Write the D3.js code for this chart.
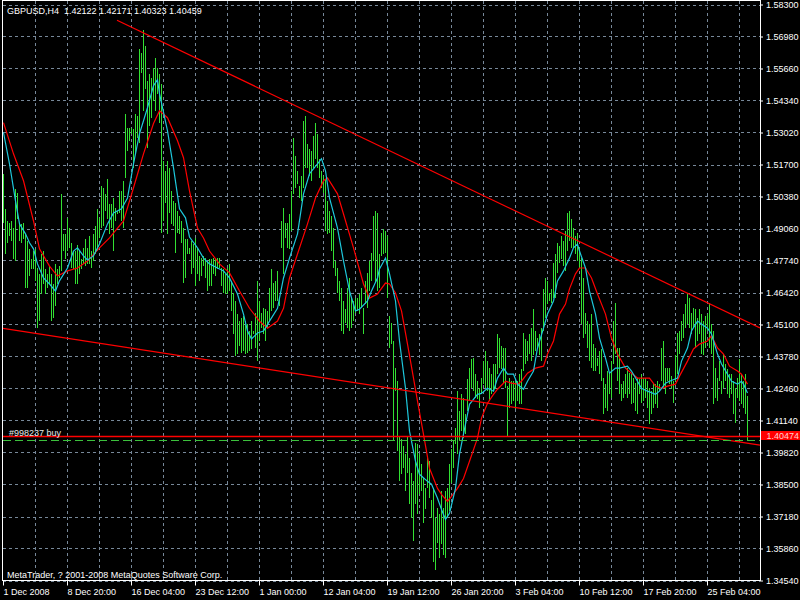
<!DOCTYPE html>
<html><head><meta charset="utf-8">
<script src="https://cdn.jsdelivr.net/npm/d3@7"></script>
<style>html,body{margin:0;padding:0;background:#000;}svg{display:block;}</style>
</head><body>
<svg id="c" width="800" height="600"></svg>
<script>
// ---------------- data ----------------
const symbol = "GBPUSD,H4";
const lastOHLC = [1.42122, 1.42171, 1.40323, 1.40459];
const copyright = "MetaTrader, ? 2001-2008 MetaQuotes Software Corp.";
const priceTicks = [1.58300,1.56980,1.55660,1.54340,1.53020,1.51700,1.50380,1.49060,1.47740,1.46420,1.45100,1.43780,1.42460,1.41140,1.39820,1.38500,1.37180,1.35860,1.34540];
const timeLabels = ["1 Dec 2008","8 Dec 20:00","16 Dec 04:00","23 Dec 12:00","1 Jan 00:00","12 Jan 04:00","19 Jan 12:00","26 Jan 20:00","3 Feb 04:00","10 Feb 12:00","17 Feb 20:00","25 Feb 04:00"];
const timeLabelBars = [0,32,64,96,128,160,192,224,256,288,320,352];
const gridBars = [16,32,48,64,80,96,112,128,144,160,176,192,208,224,240,256,272,288,304,320,336,352,368];

const highs = [
1.5132,1.4987,1.4937,1.4929,1.4937,1.4908,1.5070,1.5053,1.4929,1.4925,1.4929,1.4884,1.4855,1.4822,1.4780,1.4813,1.4822,1.4743,1.4719,1.4801,
1.4813,1.4739,1.4719,1.4751,1.4719,1.4677,1.4760,1.4739,1.4751,1.5049,1.4884,1.4884,1.4950,1.4908,1.4847,1.4813,1.4813,1.4838,1.4813,1.4780,
1.4826,1.4863,1.4826,1.4875,1.4813,1.4884,1.4916,1.4987,1.4950,1.5082,1.5074,1.5049,1.5111,1.5008,1.5008,1.5032,1.4991,1.4979,1.5061,1.5061,
1.5103,1.5380,1.5322,1.5322,1.5322,1.5317,1.5380,1.5371,1.5648,1.5628,1.5723,1.5660,1.5516,1.5545,1.5528,1.5570,1.5611,1.5566,1.5545,1.5504,
1.5185,1.5144,1.5185,1.5156,1.5061,1.5020,1.5012,1.4979,1.4958,1.4937,1.4908,1.4863,1.4863,1.4826,1.4855,1.4842,1.4867,1.4826,1.4793,1.4784,
1.4793,1.4784,1.4772,1.4780,1.4780,1.4784,1.4780,1.4784,1.4784,1.4743,1.4739,1.4719,1.4743,1.4760,1.4690,1.4640,1.4607,1.4553,1.4524,1.4537,
1.4545,1.4524,1.4512,1.4483,1.4524,1.4483,1.4557,1.4690,1.4607,1.4557,1.4577,1.4573,1.4566,1.4661,1.4739,1.4681,1.4690,1.4731,1.4615,1.4937,
1.4991,1.4929,1.4929,1.4966,1.5061,1.5280,1.5206,1.5144,1.5082,1.5123,1.5351,1.5371,1.5256,1.5235,1.5227,1.5289,1.5343,1.5297,1.5194,1.5144,
1.5123,1.5111,1.5020,1.4979,1.4958,1.4908,1.4772,1.4743,1.4690,1.4661,1.4607,1.4573,1.4661,1.4702,1.4619,1.4607,1.4619,1.4619,1.4636,1.4661,
1.4577,1.4690,1.4723,1.4772,1.4805,1.4958,1.4979,1.4970,1.4801,1.4888,1.4904,1.4896,1.4875,1.4545,1.4516,1.4442,1.4330,1.4276,1.4049,1.4037,
1.4008,1.3975,1.4049,1.3958,1.3896,1.3863,1.4020,1.4016,1.3975,1.3933,1.3875,1.3834,1.3967,1.3946,1.3788,1.3834,1.3710,1.3752,1.3727,1.3822,
1.3752,1.3822,1.3834,1.3933,1.3996,1.4028,1.4082,1.4235,1.4152,1.4222,1.4206,1.4140,1.4284,1.4330,1.4367,1.4371,1.4305,1.4276,1.4247,1.4289,
1.4359,1.4400,1.4359,1.4330,1.4305,1.4347,1.4347,1.4471,1.4454,1.4421,1.4413,1.4413,1.4256,1.4289,1.4276,1.4276,1.4276,1.4276,1.4305,1.4326,
1.4475,1.4450,1.4442,1.4471,1.4495,1.4573,1.4483,1.4454,1.4471,1.4495,1.4657,1.4702,1.4690,1.4640,1.4657,1.4764,1.4801,1.4847,1.4834,1.4875,
1.4855,1.4896,1.4970,1.4979,1.4946,1.4908,1.4875,1.4888,1.4826,1.4784,1.4702,1.4557,1.4524,1.4512,1.4553,1.4429,1.4413,1.4371,1.4400,1.4409,
1.4289,1.4264,1.4318,1.4309,1.4359,1.4524,1.4599,1.4413,1.4413,1.4264,1.4276,1.4305,1.4330,1.4309,1.4309,1.4289,1.4268,1.4289,1.4284,1.4305,
1.4289,1.4289,1.4276,1.4247,1.4235,1.4264,1.4264,1.4276,1.4264,1.4413,1.4442,1.4330,1.4330,1.4330,1.4297,1.4276,1.4384,1.4475,1.4483,1.4524,
1.4553,1.4594,1.4640,1.4619,1.4557,1.4577,1.4573,1.4537,1.4573,1.4553,1.4524,1.4545,1.4553,1.4599,1.4512,1.4483,1.4330,1.4289,1.4359,1.4276,
1.4388,1.4347,1.4326,1.4305,1.4305,1.4276,1.4247,1.4289,1.4367,1.4305,1.4276,1.4305,1.42171];
const lows = [
1.4929,1.4801,1.4847,1.4875,1.4855,1.4780,1.4772,1.4946,1.4855,1.4847,1.4863,1.4661,1.4661,1.4710,1.4739,1.4739,1.4690,1.4495,1.4524,1.4636,
1.4677,1.4636,1.4661,1.4677,1.4524,1.4537,1.4586,1.4677,1.4702,1.4731,1.4813,1.4780,1.4813,1.4826,1.4743,1.4739,1.4677,1.4677,1.4719,1.4739,
1.4760,1.4751,1.4760,1.4760,1.4743,1.4772,1.4801,1.4813,1.4867,1.4908,1.4916,1.4979,1.4946,1.4884,1.4908,1.4813,1.4937,1.4966,1.4970,1.4937,
1.4908,1.5115,1.5227,1.5268,1.5297,1.5156,1.5214,1.5280,1.5260,1.5549,1.5392,1.5483,1.5239,1.5330,1.5363,1.5433,1.5392,1.5462,1.5343,1.4888,
1.4937,1.5012,1.4884,1.4970,1.4925,1.4916,1.4805,1.4888,1.4884,1.4847,1.4681,1.4702,1.4801,1.4801,1.4719,1.4743,1.4669,1.4719,1.4690,1.4710,
1.4751,1.4702,1.4648,1.4669,1.4669,1.4719,1.4710,1.4739,1.4743,1.4669,1.4640,1.4636,1.4636,1.4648,1.4566,1.4471,1.4379,1.4388,1.4421,1.4392,
1.4400,1.4388,1.4392,1.4400,1.4409,1.4471,1.4413,1.4359,1.4442,1.4495,1.4471,1.4442,1.4495,1.4524,1.4566,1.4577,1.4607,1.4607,1.4586,1.4826,
1.4719,1.4867,1.4826,1.4822,1.4896,1.5049,1.5074,1.5090,1.5032,1.5020,1.5074,1.5156,1.5156,1.5123,1.5103,1.5156,1.5194,1.5156,1.5115,1.5074,
1.5053,1.4896,1.4884,1.4888,1.4813,1.4743,1.4710,1.4640,1.4607,1.4483,1.4471,1.4516,1.4495,1.4483,1.4495,1.4524,1.4557,1.4566,1.4553,1.4577,
1.4471,1.4594,1.4577,1.4648,1.4690,1.4772,1.4681,1.4648,1.4661,1.4793,1.4801,1.4805,1.4619,1.4413,1.4429,1.4028,1.4235,1.3987,1.3863,1.3892,
1.3917,1.3822,1.3896,1.3768,1.3710,1.3615,1.3768,1.3727,1.3809,1.3822,1.3690,1.3747,1.3834,1.3793,1.3710,1.3532,1.3499,1.3607,1.3545,1.3603,
1.3561,1.3545,1.3710,1.3739,1.3855,1.3917,1.4016,1.3975,1.4028,1.4070,1.4041,1.4057,1.4152,1.4194,1.4247,1.4235,1.4206,1.4202,1.4165,1.4222,
1.4264,1.4247,1.4235,1.4194,1.4222,1.4235,1.4243,1.4305,1.4330,1.4326,1.4268,1.4247,1.4049,1.4165,1.4181,1.4194,1.4161,1.4194,1.4181,1.4181,
1.4318,1.4347,1.4359,1.4388,1.4359,1.4384,1.4400,1.4409,1.4384,1.4359,1.4483,1.4537,1.4594,1.4607,1.4599,1.4619,1.4619,1.4723,1.4764,1.4780,
1.4751,1.4731,1.4813,1.4855,1.4826,1.4826,1.4801,1.4772,1.4743,1.4512,1.4454,1.4471,1.4413,1.4359,1.4330,1.4318,1.4318,1.4338,1.4305,1.4276,
1.4140,1.4165,1.4152,1.4222,1.4206,1.4347,1.4388,1.4276,1.4222,1.4194,1.4206,1.4222,1.4206,1.4222,1.4181,1.4185,1.4152,1.4140,1.4222,1.4185,
1.4194,1.4206,1.4165,1.4099,1.4140,1.4165,1.4181,1.4165,1.4235,1.4276,1.4247,1.4222,1.4276,1.4264,1.4243,1.4185,1.4276,1.4305,1.4388,1.4442,
1.4454,1.4495,1.4512,1.4495,1.4471,1.4495,1.4413,1.4442,1.4471,1.4388,1.4384,1.4413,1.4483,1.4413,1.4388,1.4181,1.4206,1.4194,1.4276,1.4222,
1.4247,1.4276,1.4222,1.4206,1.4222,1.4140,1.4103,1.4206,1.4194,1.4181,1.4165,1.4140,1.40323];

// moving averages: [bar, price]
const maFast = [[0,1.5302],[3,1.5173],[6,1.5020],[8,1.4925],[11,1.4884],[13,1.4847],[15,1.4822],[17,1.4760],[20,1.4702],[23,1.4677],[26,1.4648],[28,1.4690],[32,1.4743],[35,1.4813],[37,1.4826],[40,1.4793],[42,1.4776],[45,1.4793],[48,1.4842],[52,1.4925],[55,1.4970],[59,1.4987],[62,1.5032],[65,1.5173],[68,1.5297],[72,1.5404],[75,1.5495],[77,1.5520],[78,1.5462],[82,1.5309],[85,1.5156],[88,1.4987],[91,1.4950],[93,1.4871],[97,1.4826],[100,1.4784],[103,1.4760],[107,1.4743],[110,1.4731],[113,1.4702],[117,1.4636],[120,1.4553],[122,1.4483],[124,1.4450],[127,1.4475],[130,1.4483],[133,1.4524],[137,1.4577],[140,1.4702],[143,1.4784],[147,1.4884],[150,1.5049],[153,1.5132],[157,1.5173],[159,1.5194],[161,1.5144],[163,1.5032],[167,1.4908],[170,1.4772],[173,1.4648],[176,1.4566],[178,1.4573],[182,1.4607],[184,1.4648],[187,1.4702],[188,1.4739],[191,1.4784],[193,1.4719],[196,1.4607],[198,1.4442],[201,1.4247],[203,1.4070],[206,1.3946],[208,1.3892],[212,1.3863],[214,1.3851],[217,1.3793],[219,1.3747],[221,1.3706],[223,1.3731],[226,1.3834],[228,1.3975],[231,1.4099],[233,1.4181],[237,1.4222],[239,1.4226],[242,1.4247],[245,1.4235],[247,1.4289],[250,1.4330],[252,1.4305],[255,1.4305],[257,1.4264],[260,1.4243],[262,1.4276],[265,1.4318],[267,1.4413],[270,1.4495],[272,1.4553],[275,1.4607],[277,1.4690],[280,1.4731],[283,1.4784],[285,1.4826],[287,1.4842],[288,1.4813],[291,1.4743],[293,1.4648],[296,1.4553],[298,1.4454],[301,1.4371],[303,1.4309],[306,1.4330],[308,1.4330],[312,1.4338],[314,1.4318],[317,1.4276],[319,1.4247],[322,1.4235],[326,1.4222],[328,1.4235],[331,1.4268],[333,1.4276],[337,1.4289],[339,1.4359],[342,1.4413],[344,1.4483],[347,1.4524],[349,1.4512],[352,1.4495],[354,1.4471],[357,1.4388],[359,1.4347],[362,1.4305],[364,1.4276],[367,1.4264],[369,1.4276],[370,1.4264],[372,1.4227]];
const maSlow = [[0,1.5343],[5,1.5214],[10,1.5103],[15,1.4937],[18,1.4822],[23,1.4751],[27,1.4710],[32,1.4731],[37,1.4743],[42,1.4772],[48,1.4826],[53,1.4867],[60,1.4937],[65,1.5074],[70,1.5214],[75,1.5339],[78,1.5392],[82,1.5363],[87,1.5268],[90,1.5198],[93,1.5061],[97,1.4908],[100,1.4867],[103,1.4813],[108,1.4760],[113,1.4723],[118,1.4648],[123,1.4577],[128,1.4524],[132,1.4495],[137,1.4524],[140,1.4577],[143,1.4702],[147,1.4801],[152,1.4925],[156,1.5032],[160,1.5103],[162,1.5115],[167,1.5049],[170,1.4966],[175,1.4826],[180,1.4677],[183,1.4619],[187,1.4636],[188,1.4648],[191,1.4681],[193,1.4677],[196,1.4640],[199,1.4566],[202,1.4429],[205,1.4289],[207,1.4194],[210,1.4057],[213,1.3917],[217,1.3834],[219,1.3809],[222,1.3780],[224,1.3801],[227,1.3834],[230,1.3875],[233,1.3946],[237,1.4041],[239,1.4124],[242,1.4185],[245,1.4222],[247,1.4243],[251,1.4276],[254,1.4268],[257,1.4264],[259,1.4276],[262,1.4309],[266,1.4330],[270,1.4338],[272,1.4388],[275,1.4442],[278,1.4553],[281,1.4594],[283,1.4657],[286,1.4719],[288,1.4743],[291,1.4743],[294,1.4702],[297,1.4636],[301,1.4553],[304,1.4454],[307,1.4388],[311,1.4330],[314,1.4309],[317,1.4289],[320,1.4289],[323,1.4289],[326,1.4256],[329,1.4247],[332,1.4256],[336,1.4264],[338,1.4297],[342,1.4359],[345,1.4409],[348,1.4429],[352,1.4442],[354,1.4463],[357,1.4413],[360,1.4388],[363,1.4338],[367,1.4318],[369,1.4305],[372,1.4264]];

// trend lines (anchor points [bar, price]), extended to the right edge
const trendUpper = [[57,1.5765],[345,1.4628]];
const trendLower = [[0,1.4494],[216,1.4219]];
const hLinePrice = 1.40474;
const orderPrice = 1.40320;
const orderLabel = "#998237 buy";

// ---------------- drawing ----------------
const W = 800, H = 600;
const L = 3, R = 760, T = 4.5, B = 580.5;
const lastBar = 378.5;
const x = d3.scaleLinear().domain([0, lastBar]).range([L, R]);
const y = d3.scaleLinear().domain([1.34540, 1.58300]).range([B, T]);
const FONT = "'Liberation Sans', Arial, sans-serif";
const svg = d3.select("#c");
svg.append("rect").attr("width", W).attr("height", H).attr("fill", "#000");

svg.append("defs").append("clipPath").attr("id","plot")
  .append("rect").attr("x", L).attr("y", 1).attr("width", R - L).attr("height", B - 1);

const gridCol = "#778899";
const grid = svg.append("g").attr("shape-rendering","crispEdges");
grid.selectAll("line.h").data(priceTicks).join("line").attr("class","h")
  .attr("x1", L).attr("x2", R).attr("y1", d => Math.round(y(d)) + 0.5).attr("y2", d => Math.round(y(d)) + 0.5)
  .attr("stroke", gridCol).attr("stroke-dasharray","3,3");
grid.selectAll("line.v").data(gridBars).join("line").attr("class","v")
  .attr("x1", d => Math.round(x(d)) + 0.5).attr("x2", d => Math.round(x(d)) + 0.5).attr("y1", 1).attr("y2", B)
  .attr("stroke", gridCol).attr("stroke-dasharray","3,3");

const plot = svg.append("g").attr("clip-path","url(#plot)");

// bars (high-low)
plot.append("g").attr("shape-rendering","crispEdges")
  .selectAll("line").data(highs.map((h,i) => ({i, h, l: lows[i]}))).join("line")
  .attr("x1", d => Math.round(x(d.i)) + 0.5).attr("x2", d => Math.round(x(d.i)) + 0.5)
  .attr("y1", d => Math.round(y(d.h))).attr("y2", d => Math.max(Math.round(y(d.l)), Math.round(y(d.h)) + 1))
  .attr("stroke", "#32e032").attr("stroke-width", 1);

// moving averages
const line = d3.line().x(d => x(d[0]) + 0.5).y(d => y(d[1]));
plot.append("path").datum(maSlow).attr("d", line).attr("fill","none").attr("stroke","#ff0000").attr("stroke-width",1.2);
plot.append("path").datum(maFast).attr("d", line).attr("fill","none").attr("stroke","#1ec8dc").attr("stroke-width",1.2);

// trend lines as rays
function ray(p) {
  const [a, b] = p;
  const slope = (b[1] - a[1]) / (b[0] - a[0]);
  return [a, [lastBar, a[1] + slope * (lastBar - a[0])]];
}
const tl = d3.line().x(d => x(d[0])).y(d => y(d[1]));
[trendUpper, trendLower].forEach(p => {
  plot.append("path").datum(ray(p)).attr("d", tl).attr("fill","none").attr("stroke","#ff0000").attr("stroke-width",1.2);
});

// order line (green dashed) and horizontal line (red)
const oy = Math.round(y(orderPrice)) + 0.5;
const hy = Math.round(y(hLinePrice)) - 0.5;
svg.append("line").attr("x1", L).attr("x2", R).attr("y1", oy).attr("y2", oy)
  .attr("stroke","#3cc03c").attr("stroke-dasharray","8,4");
svg.append("line").attr("x1", L).attr("x2", R).attr("y1", hy).attr("y2", hy)
  .attr("stroke","#ff0000").attr("stroke-width",1.6);
svg.append("text").attr("x", 9).attr("y", hy - 1)
  .attr("fill","#e8e8e8").attr("font-family",FONT).attr("font-size","9px").text(orderLabel);

// axes
const yAxis = d3.axisRight(y).tickValues(priceTicks).tickFormat(d3.format(".5f")).tickSize(3).tickSizeOuter(0).tickPadding(3);
const gy = svg.append("g").attr("transform", `translate(${R},0)`).call(yAxis);
gy.select(".domain").remove();
gy.selectAll("line").attr("stroke","#fff");
gy.selectAll("text").attr("fill","#fff").attr("font-family",FONT).attr("font-size","9px");

const xAxis = d3.axisBottom(x).tickValues(timeLabelBars).tickFormat((d,i) => timeLabels[i]).tickSize(5).tickSizeOuter(0).tickPadding(3);
const gx = svg.append("g").attr("transform", `translate(0,${B})`).call(xAxis);
gx.select(".domain").remove();
gx.selectAll("line").attr("stroke","#fff");
gx.selectAll("text").attr("fill","#fff").attr("font-family",FONT).attr("font-size","9px").attr("text-anchor","start");

// price label of the horizontal line
svg.append("rect").attr("x", 761).attr("y", hy - 5.5).attr("width", 39).attr("height", 9).attr("fill","#ff0000");
svg.append("text").attr("x", 766.5).attr("y", hy + 2.5).attr("fill","#ffd0d0")
  .attr("font-family",FONT).attr("font-size","9px").text(d3.format(".5f")(hLinePrice));

// frame
svg.append("rect").attr("x", 2.5).attr("y", 0.5).attr("width", R - 2.5 + 0.5).attr("height", B - 0.5)
  .attr("fill","none").attr("stroke","#fff").attr("shape-rendering","crispEdges");

// texts
svg.append("text").attr("x", 7).attr("y", 14).attr("fill","#fff").attr("font-family",FONT).attr("font-size","9px")
  .attr("xml:space","preserve").text(symbol + "  " + lastOHLC.map(d3.format(".5f")).join(" "));
svg.append("text").attr("x", 7).attr("y", 578).attr("fill","#fff").attr("font-family",FONT).attr("font-size","9px")
  .text(copyright);
</script>
</body></html>
